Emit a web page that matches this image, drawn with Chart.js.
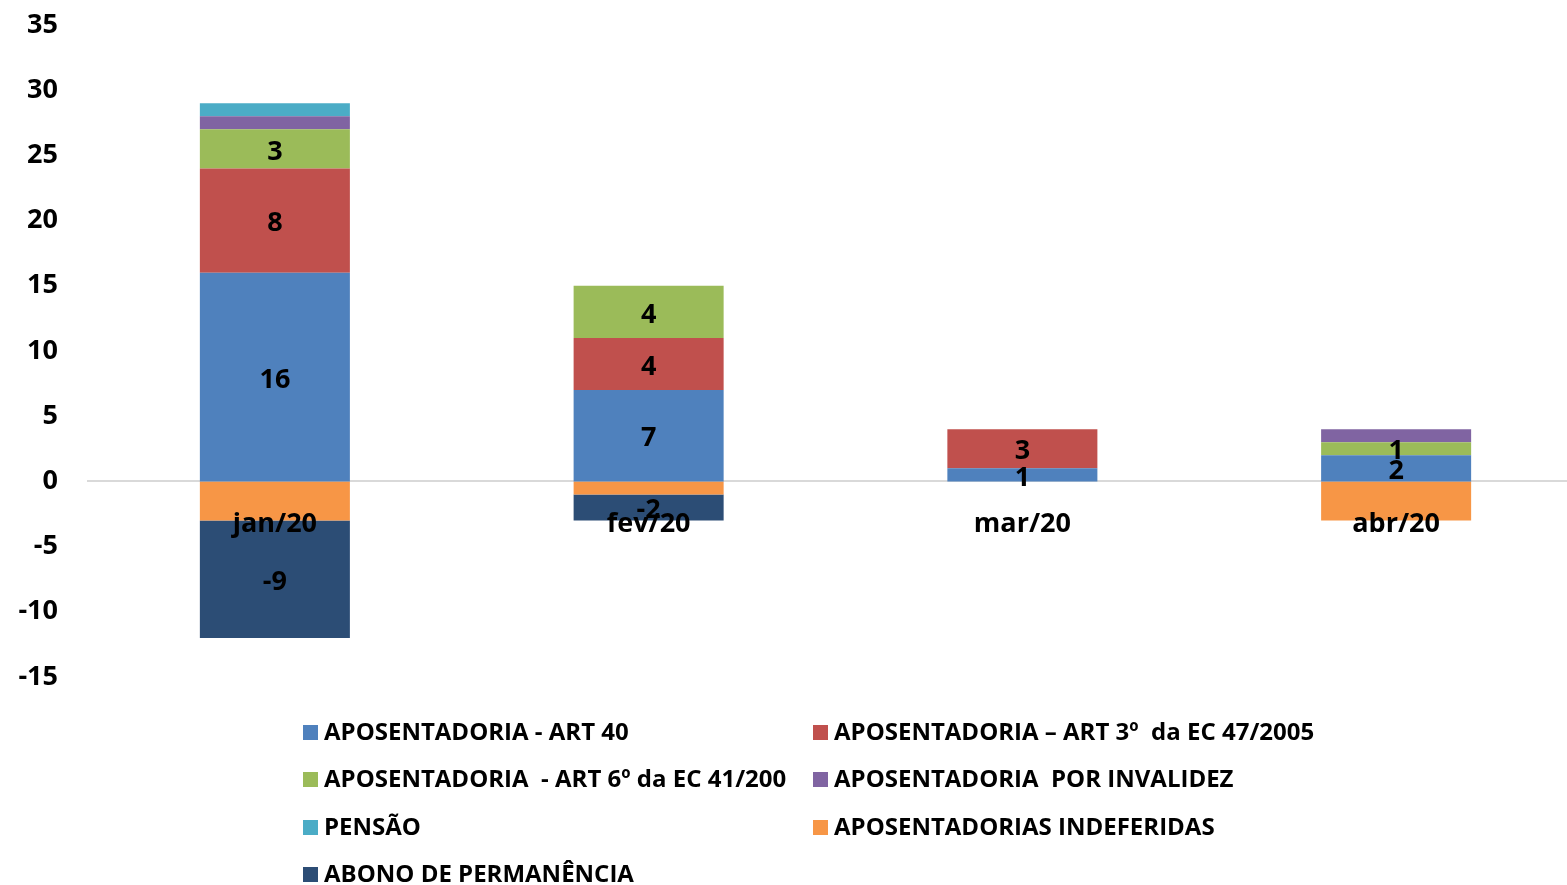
<!DOCTYPE html>
<html><head><meta charset="utf-8">
<script src="https://cdn.jsdelivr.net/npm/chart.js@4"></script>
<style>html,body{margin:0;padding:0;background:#fff;overflow:hidden;width:1567px;height:885px}
#wrap{position:absolute;left:0;top:0;width:1600px;height:885px}</style>
</head><body>
<div id="wrap"><canvas id="c" width="1600" height="885"></canvas></div>
<script>
const categories = ['jan/20', 'fev/20', 'mar/20', 'abr/20'];
const seriesNames = [
  'APOSENTADORIA - ART 40',
  'APOSENTADORIA \u2013 ART 3\u00BA  da EC 47/2005',
  'APOSENTADORIA  - ART 6\u00BA da EC 41/200',
  'APOSENTADORIA  POR INVALIDEZ',
  'PENS\u00C3O',
  'APOSENTADORIAS INDEFERIDAS',
  'ABONO DE PERMAN\u00CANCIA'
];
const art40      = [16, 7, 1, 2];
const art3       = [8, 4, 3, 0];
const art6       = [3, 4, 0, 1];
const invalidez  = [1, 0, 0, 1];
const pensao     = [1, 0, 0, 0];
const indeferidas= [-3, -1, 0, -3];
const abono      = [-9, -2, 0, 0];
const yTicks = [35, 30, 25, 20, 15, 10, 5, 0, -5, -10, -15];

const colors = ['#4F81BD', '#C0504D', '#9BBB59', '#8064A2', '#4BACC6', '#F79646', '#2C4D75'];
const values = [art40, art3, art6, invalidez, pensao, indeferidas, abono];
const showLabels = [true, true, true, false, false, false, true];
const FONT = '"Open Sans", "Noto Sans", sans-serif';

const datasets = values.map((v, i) => ({
  label: seriesNames[i],
  data: v,
  backgroundColor: colors[i],
  borderWidth: 0,
  stack: 's',
  showLabel: showLabels[i],
  barPercentage: 1,
  categoryPercentage: 0.4014
}));

const valueLabels = {
  id: 'valueLabels',
  afterDatasetsDraw(chart) {
    const ctx = chart.ctx;
    ctx.save();
    ctx.font = 'bold 27px ' + FONT;
    ctx.fillStyle = '#000';
    ctx.textAlign = 'center';
    ctx.textBaseline = 'middle';
    chart.data.datasets.forEach((ds, di) => {
      if (!ds.showLabel) return;
      const meta = chart.getDatasetMeta(di);
      meta.data.forEach((bar, j) => {
        const v = ds.data[j];
        if (!v) return;
        const y = (bar.y + bar.base) / 2 + 3;
        ctx.fillText(String(v), bar.x, y);
      });
    });
    ctx.restore();
  }
};

const gridLegend = {
  id: 'gridLegend',
  afterDraw(chart) {
    const ctx = chart.ctx;
    ctx.save();
    ctx.font = 'bold 24px ' + FONT;
    ctx.textBaseline = 'middle';
    ctx.textAlign = 'left';
    const colX = [303, 813];
    const rowY = [732, 779, 827, 874];
    chart.data.datasets.forEach((ds, i) => {
      const col = i % 2, row = Math.floor(i / 2);
      const x = colX[col], y = rowY[row];
      ctx.fillStyle = ds.backgroundColor;
      ctx.fillRect(x, y - 7, 15, 15);
      ctx.fillStyle = '#000';
      ctx.fillText(ds.label, x + 21, y + 1);
    });
    ctx.restore();
  }
};

new Chart(document.getElementById('c'), {
  type: 'bar',
  data: { labels: categories, datasets },
  options: {
    responsive: false,
    animation: false,
    events: [],
    layout: { padding: { top: 25, bottom: 208, right: 17, left: 0 } },
    plugins: { legend: { display: false }, tooltip: { enabled: false } },
    scales: {
      x: {
        stacked: true,
        position: { y: 0 },
        grid: { display: false, drawTicks: false },
        border: { display: true, color: '#D9D9D9', width: 2 },
        ticks: { z: 1, color: '#000', font: { family: FONT, size: 27, weight: 'bold' }, padding: 27, maxRotation: 0 }
      },
      y: {
        stacked: true,
        min: -15, max: 35,
        afterFit(s) { s.width = 88; s.paddingTop = 0; s.paddingBottom = 0; },
        afterBuildTicks(s) { s.ticks = yTicks.map(v => ({ value: v })); },
        grid: { display: false, drawTicks: false },
        border: { display: false },
        ticks: { color: '#000', font: { family: FONT, size: 27, weight: 'bold' }, padding: 30 }
      }
    }
  },
  plugins: [valueLabels, gridLegend]
});
</script>
</body></html>
